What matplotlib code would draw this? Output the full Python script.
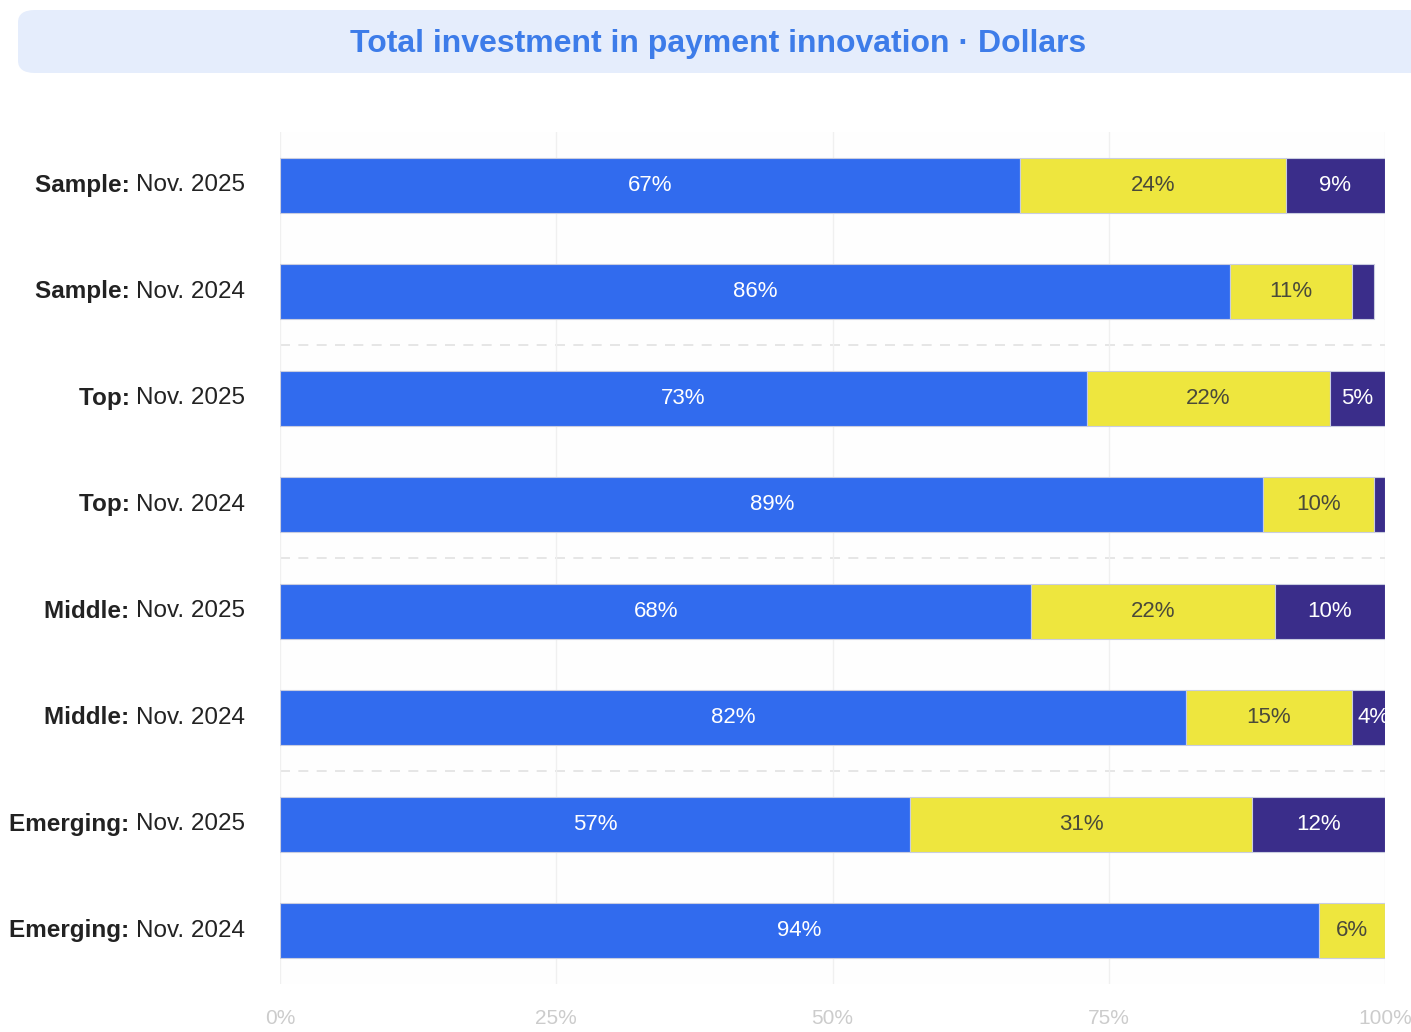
import numpy as np
import matplotlib.pyplot as plt
from matplotlib.patches import FancyBboxPatch

plt.rcParams['font.family'] = ['Liberation Sans', 'DejaVu Sans']

groups = ['Sample', 'Sample', 'Top', 'Top', 'Middle', 'Middle', 'Emerging', 'Emerging']
periods = ['Nov. 2025', 'Nov. 2024'] * 4
share_a = [67, 86, 73, 89, 68, 82, 57, 94]
share_b = [24, 11, 22, 10, 22, 15, 31, 6]
share_c = [9, 2, 5, 1, 10, 4, 12, 0]
x_ticks = [0, 25, 50, 75, 100]
x_tick_labels = ['0%', '25%', '50%', '75%', '100%']

colors = ['#316bee', '#eee63e', '#3a2d8a']
text_colors = ['white', '#4a4a3a', 'white']

fig = plt.figure(figsize=(14.11, 10.32), dpi=100)

# title banner
W, H = 1411, 1032
banner = FancyBboxPatch((18 / W, 1 - 73 / H), (1411 - 18 + 20) / W, 63 / H,
                        boxstyle='round,pad=0,rounding_size=0.012',
                        transform=fig.transFigure, facecolor='#e5edfc',
                        edgecolor='none', zorder=0)
fig.patches.append(banner)
fig.text(718 / W, 1 - 44 / H, 'Total investment in payment innovation \u00b7 Dollars',
         ha='center', va='center', fontsize=23, fontweight='bold', color='#3d7ce9')

ax = fig.add_axes([280 / W, 1 - 984 / H, (1385 - 280) / W, (984 - 132) / H])
ax.set_facecolor('#fefefe')

y = np.arange(len(groups))
left = np.zeros(len(groups))
for vals, col, tcol in zip([share_a, share_b, share_c], colors, text_colors):
    vals = np.array(vals, dtype=float)
    ax.barh(y, vals, left=left, height=0.52, color=col,
            edgecolor='#c9cde0', linewidth=0.8, zorder=3)
    for yi, l, v in zip(y, left, vals):
        if v >= 4:
            ax.text(l + v / 2, yi, f'{int(v)}%', ha='center', va='center',
                    fontsize=16, color=tcol, zorder=4, clip_on=True)
    left += vals

# separators between groups
for yy in [1.5, 3.5, 5.5]:
    ax.axhline(yy, color='#e2e2e2', linestyle=(0, (6, 5)), linewidth=1.2, zorder=1)

ax.set_xlim(0, 100)
ax.set_ylim(7.5, -0.5)
ax.set_xticks(x_ticks)
ax.set_xticklabels(x_tick_labels, fontsize=15, color='#cccccc')
ax.grid(axis='x', color='#f0f0f0', linewidth=1, zorder=0)
ax.tick_params(axis='x', length=0, pad=18)
ax.set_yticks([])
for sp in ax.spines.values():
    sp.set_visible(False)

# category labels: bold group name followed by period
for yi, g, p in zip(y, groups, periods):
    t = ax.annotate(p, xy=(0, yi), xytext=(-25, 0), textcoords='offset points',
                    ha='right', va='center', fontsize=17.5, color='#222222',
                    annotation_clip=False)
    fig.canvas.draw()
    bb = t.get_window_extent()
    ax.annotate(g + ': ', xy=(bb.x0, bb.y0 + bb.height / 2), xycoords='figure pixels',
                ha='right', va='center', fontsize=17.5, fontweight='bold',
                color='#222222', annotation_clip=False)

fig.savefig('out.png', dpi=100)
